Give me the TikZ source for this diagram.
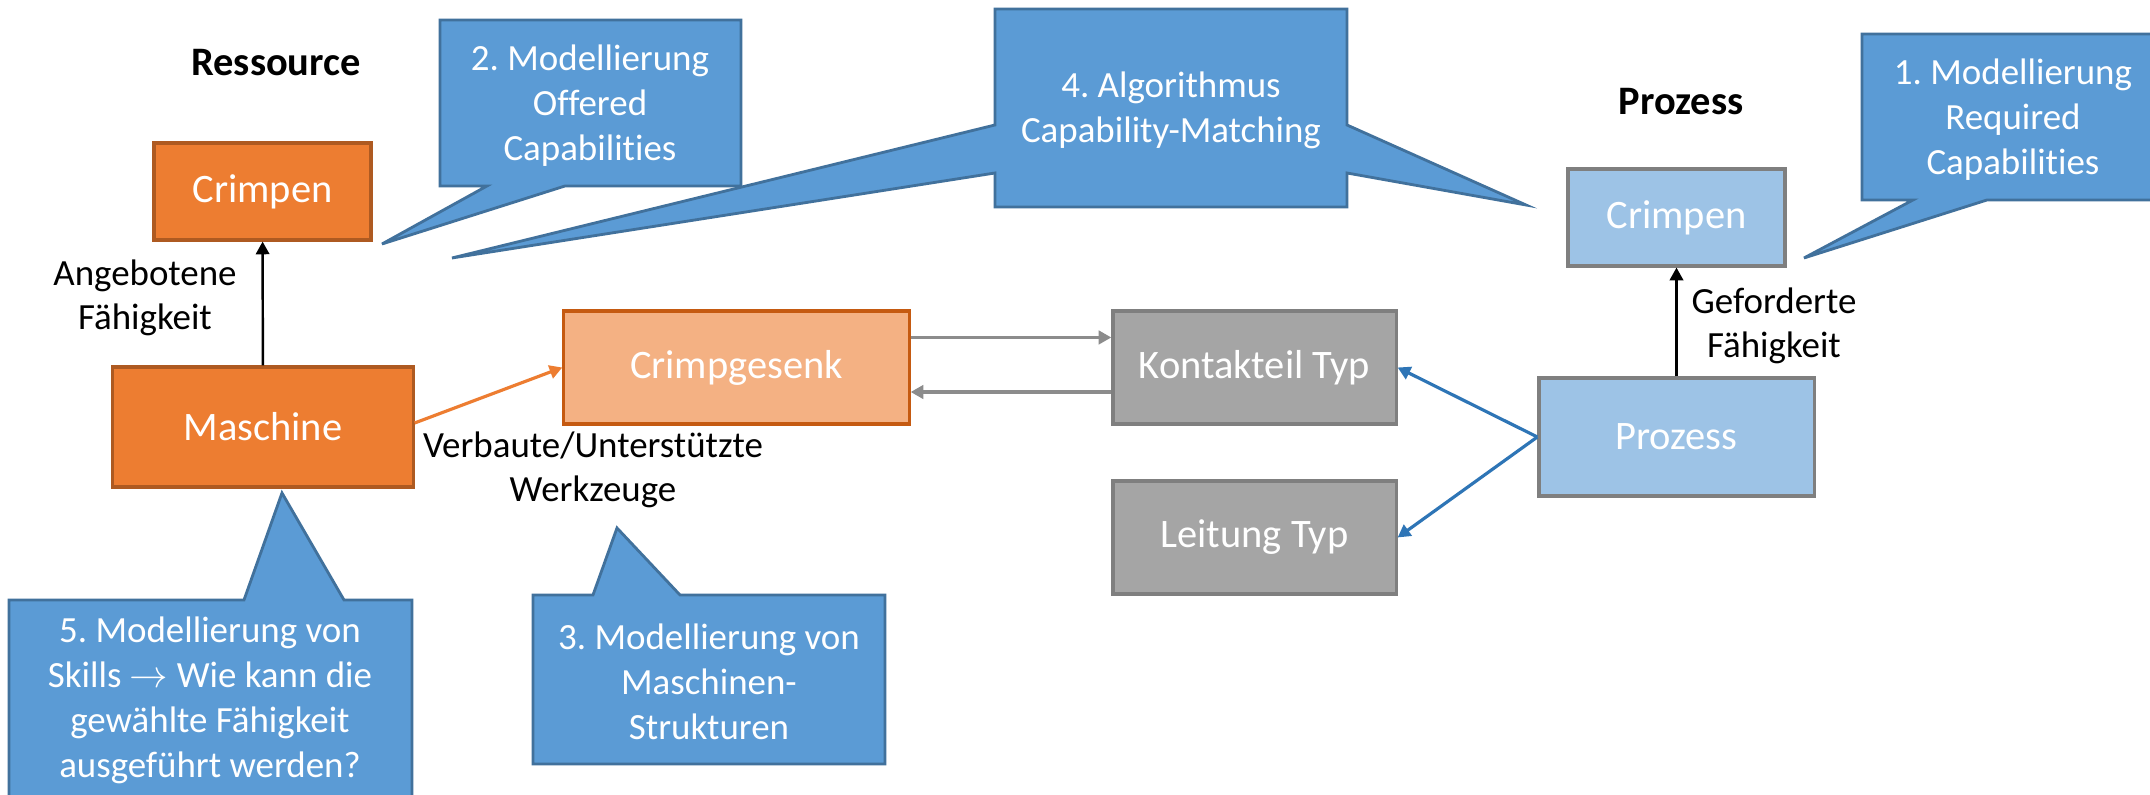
\documentclass[tikz,border=0pt]{standalone}
\usepackage{fontspec}
\setmainfont[Ligatures={NoCommon}]{Carlito}
\usetikzlibrary{arrows.meta}
\frenchspacing

\definecolor{resOrange}{HTML}{ED7D31}
\definecolor{resOrangeLine}{HTML}{AE5A21}
\definecolor{toolOrange}{HTML}{F4B183}
\definecolor{toolOrangeLine}{HTML}{C55A11}
\definecolor{partGray}{HTML}{A5A5A5}
\definecolor{partGrayLine}{HTML}{7F7F7F}
\definecolor{procBlue}{HTML}{9DC3E6}
\definecolor{noteBlue}{HTML}{5B9BD5}
\definecolor{noteBlueLine}{HTML}{41719C}
\definecolor{linkBlue}{HTML}{2E75B6}
\definecolor{linkGray}{HTML}{8C8C8C}

\tikzset{
  box/.style={draw, line width=0.9pt, inner sep=0pt, text=white,
    font=\fontsize{11.5}{14}\selectfont},
  note/.style={fill=noteBlue, draw=noteBlueLine, line width=0.8pt, line join=miter},
  notetext/.style={text=white, align=center, inner sep=0pt,
    font=\fontsize{10.5}{12.8}\selectfont},
  lbl/.style={align=center, inner sep=0pt, font=\fontsize{10.5}{12.5}\selectfont},
  head/.style={inner sep=0pt, font=\fontsize{11.5}{14}\selectfont\bfseries},
  tip/.style={-{Triangle[length=3.6pt,width=3.8pt]}}
}

\begin{document}
\begin{tikzpicture}[x=0.01cm,y=-0.01cm]
  \useasboundingbox[fill=white] (0,0) rectangle (2150,795);

  % callouts
  \draw[note] (440,20) -- (741,20) -- (741,186) -- (565,186) -- (382,244)
    -- (487,186) -- (440,186) -- cycle;
  \draw[note] (995,9) -- (1347,9) -- (1347,125) -- (1526,205) -- (1347,173)
    -- (1347,207) -- (995,207) -- (995,173) -- (452,258) -- (995,125) -- cycle;
  \draw[note] (1862,34) -- (2170,34) -- (2170,200) -- (1987,200) -- (1804,258)
    -- (1913,200) -- (1862,200) -- cycle;
  \draw[note] (9,600) -- (244,600) -- (282,493) -- (344,600) -- (412,600)
    -- (412,810) -- (9,810) -- cycle;
  \draw[note] (533,595) -- (593,595) -- (617,528) -- (680,595) -- (885,595)
    -- (885,764) -- (533,764) -- cycle;

  \begin{scope}[every node/.style={notetext}]
    \node (note2) at (590,106) {2. Modellierung\\Offered\\Capabilities};
    \node (note4) at (1171,110) {4. Algorithmus\\Capability-Matching};
    \node (note1) at (2013,120) {1. Modellierung\\Required\\Capabilities};
    \node (note5) at (210,700) {5. Modellierung von\\Skills $\rightarrow$ Wie kann die\\gewählte Fähigkeit\\ausgeführt werden?};
    \node (note3) at (709,682) {3. Modellierung von\\Maschinen-\\Strukturen};
  \end{scope}

  \node[head] (resTitle) at (276,63) {Ressource};
  \node[head] (procTitle) at (1681,102) {Prozess};

  \begin{scope}[every node/.style={box}]
    \node[fill=resOrange, draw=resOrangeLine, minimum width=2.17cm, minimum height=0.97cm]
      (crimpRes) at (262.5,191.5) {Crimpen};
    \node[fill=resOrange, draw=resOrangeLine, minimum width=3.0cm, minimum height=1.2cm]
      (maschine) at (263,427) {Maschine};
    \node[fill=toolOrange, draw=toolOrangeLine, minimum width=3.45cm, minimum height=1.13cm]
      (gesenk) at (736.5,367.5) {Crimpgesenk};
    \node[fill=partGray, draw=partGrayLine, minimum width=2.83cm, minimum height=1.13cm]
      (kontakt) at (1254.5,367.5) {Kontakteil Typ};
    \node[fill=partGray, draw=partGrayLine, minimum width=2.83cm, minimum height=1.13cm]
      (leitung) at (1254.5,537.5) {Leitung Typ};
    \node[fill=procBlue, draw=partGrayLine, minimum width=2.75cm, minimum height=1.18cm]
      (prozess) at (1676.5,437) {Prozess};
    \node[fill=procBlue, draw=partGrayLine, minimum width=2.17cm, minimum height=0.97cm]
      (crimpProc) at (1676.5,217.5) {Crimpen};
  \end{scope}

  \node[lbl] (angeboten) at (145,298) {Angebotene\\Fähigkeit};
  \node[lbl] (werkzeuge) at (593,470) {Verbaute/Unterstützte\\Werkzeuge};
  \node[lbl] (gefordert) at (1774,326) {Geforderte\\Fähigkeit};

  \begin{scope}[every edge/.style={draw, tip}]
    \path[line width=0.7pt] (maschine) edge (crimpRes);
    \path[line width=0.7pt] (prozess) edge (crimpProc);
    \path[line width=0.9pt, resOrange] ([yshift=0.04cm]maschine.east) edge (gesenk.west);
    \path[line width=1.1pt, linkGray] ([yshift=0.3cm]gesenk.east) edge ([yshift=0.3cm]kontakt.west);
    \path[line width=1.1pt, linkGray] ([yshift=-0.245cm]kontakt.west) edge ([yshift=-0.245cm]gesenk.east);
    \path[line width=0.9pt, linkBlue] (prozess.west) edge (kontakt.east);
    \path[line width=0.9pt, linkBlue] (prozess.west) edge (leitung.east);
  \end{scope}
\end{tikzpicture}
\end{document}
